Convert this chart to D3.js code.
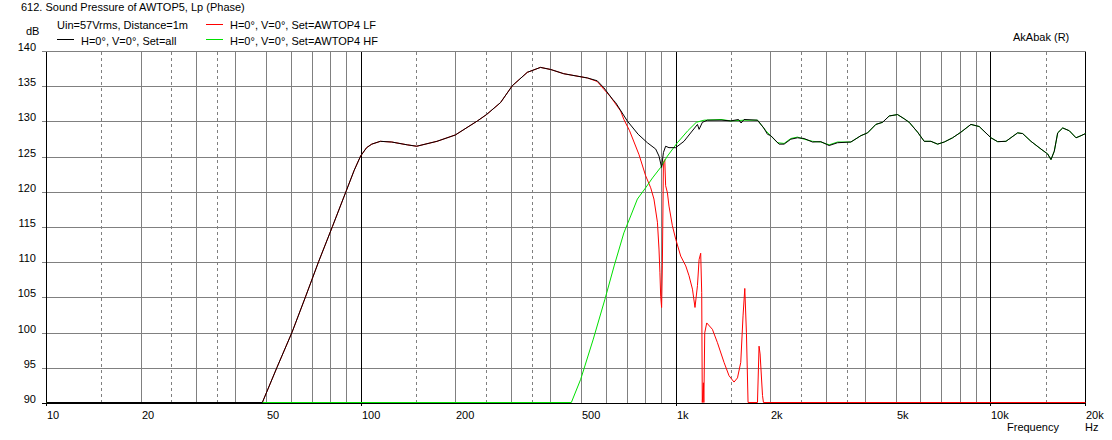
<!DOCTYPE html>
<html><head><meta charset="utf-8">
<script src="https://cdn.jsdelivr.net/npm/d3@7/dist/d3.min.js"></script>
<style>
body{margin:0;background:#fff;}
svg{display:block;}
text{font-family:"Liberation Sans",Arial,sans-serif;font-size:11px;fill:#000;}
</style>
</head><body>
<svg id="c" width="1112" height="440"></svg>
<script>
// ---- data (frequency Hz, level dB) ----
const seriesAll = [[10,90],[48.5,90],[54,95],[60.3,100],[66.5,105],[73.2,110],[81,115],[89.5,120],[95,123],[99.5,125],[104,126.2],[108,126.7],[115,127.1],[125,127.0],[140,126.6],[150,126.4],[174,127.1],[199,128.0],[234,130.0],[250,130.9],[277,132.6],[302,135.0],[337,136.9],[371,137.6],[400,137.3],[440,136.7],[523,136.1],[562,135.7],[590,134.7],[628,133.1],[643,132.6],[700,130.0],[758,128.1],[811,126.9],[862,126.0],[883,125.0],[900,123.4],[912,125.5],[927,126.4],[950,126.2],[998,126.2],[1060,127.1],[1170,129.5],[1184,128.8],[1213,129.8],[1258,130.1],[1400,130.1],[1493,130.0],[1580,130.2],[1610,129.7],[1645,130.2],[1815,130.1],[1900,129.0],[1953,128.1],[2001,127.9],[2126,126.7],[2205,126.7],[2316,127.4],[2432,127.6],[2553,127.5],[2715,127.0],[2885,127.05],[3066,126.5],[3260,126.9],[3594,127.0],[3867,127.9],[4061,128.3],[4315,129.5],[4533,129.8],[4757,130.7],[5058,130.9],[5309,130.3],[5507,129.8],[5856,128.4],[6146,127.1],[6455,127.1],[6779,126.7],[7115,127.0],[7565,127.6],[8040,128.4],[8650,129.5],[9192,129.2],[10014,127.6],[10517,127.05],[11177,127.1],[12172,128.3],[12630,128.2],[13420,127.1],[14440,126.0],[15166,125.3],[15537,124.5],[15918,125.7],[16318,128.3],[16929,129.0],[17767,128.6],[18660,127.6],[19355,127.9],[20000,128.2]];

const seriesLF = [[10,90],[48.5,90],[54,95],[60.3,100],[66.5,105],[73.2,110],[81,115],[89.5,120],[95,123],[99.5,125],[104,126.2],[108,126.7],[115,127.1],[125,127.0],[140,126.6],[150,126.4],[174,127.1],[199,128.0],[234,130.0],[250,130.9],[277,132.6],[302,135.0],[337,136.9],[371,137.6],[400,137.3],[440,136.7],[523,136.1],[562,135.6],[590,134.5],[620,133.4],[667,131.4],[683,130.2],[712,128.6],[763,125.2],[801,122.2],[831,120.5],[851,118.9],[873,115.6],[883,111.8],[889,108.5],[894,105.1],[900,103.5],[905,109.4],[912,124.1],[921,124.5],[927,120.8],[939,119.8],[950,117.9],[974,115.1],[998,113.2],[1035,110.8],[1074,109.4],[1100,108.0],[1128,106.1],[1149,103.5],[1170,106.6],[1184,110.3],[1198,111.2],[1207,105.6],[1212,90],[1222,92.8],[1226,90],[1234,99.9],[1252,101.3],[1305,100.4],[1354,98.5],[1421,95.7],[1474,93.8],[1529,92.9],[1568,93.5],[1606,95.7],[1633,102.3],[1654,106.2],[1674,99.9],[1694,90],[1815,90],[1836,98.0],[1850,96.9],[1883,91],[1896,90],[20000,90]];

const seriesHF = [[10,90],[465,90],[498,93.3],[546,99.0],[594,104.6],[636,109.4],[683,114.1],[718,116.5],[754,118.9],[801,120.5],[842,121.9],[894,123.4],[939,125.0],[1010,126.9],[1090,128.6],[1160,129.8],[1228,130.1],[1390,130.2],[1493,130.0],[1645,130.1],[1815,130.1],[1930,128.6],[2101,126.9],[2205,126.8],[2316,127.5],[2432,127.7],[2553,127.4],[2715,127.1],[2885,127.0],[3066,126.6],[3260,127.0],[3594,127.0],[3867,127.9],[4061,128.3],[4315,129.5],[4533,129.8],[4757,130.7],[5058,130.9],[5309,130.3],[5507,129.8],[5856,128.4],[6146,127.1],[6455,127.1],[6779,126.7],[7115,127.0],[7565,127.6],[8040,128.4],[8650,129.5],[9192,129.2],[10014,127.6],[10517,127.05],[11177,127.1],[12172,128.3],[12630,128.2],[13420,127.1],[14440,126.0],[15166,125.3],[15537,124.5],[15918,125.7],[16318,128.3],[16929,129.0],[17767,128.6],[18660,127.6],[19355,127.9],[20000,128.2]];

const xTickValues = [10,20,50,100,200,500,1000,2000,5000,10000,20000];
const xTickLabels = ["10","20","50","100","200","500","1k","2k","5k","10k","20k"];
const yTickValues = [90,95,100,105,110,115,120,125,130,135,140];
const gridSolidF = [20,30,40,50,60,70,80,90,200,300,400,500,600,700,800,900,2000,3000,4000,5000,6000,7000,8000,9000];
const gridDashedF = [15,25,35,150,250,350,1500,2500,3500,15000];
const gridMajorF = [100,1000,10000];
const legendItems = [
  {label:"H=0°, V=0°, Set=all", color:"#000000"},
  {label:"H=0°, V=0°, Set=AWTOP4 LF", color:"#ff0000"},
  {label:"H=0°, V=0°, Set=AWTOP4 HF", color:"#00e000"}
];

// ---- layout ----
const svg = d3.select("#c");
const x = d3.scaleLog().domain([10,20000]).range([46,1085]);
const y = d3.scaleLinear().domain([90,140]).range([403,51]).clamp(true);
const px = v => Math.round(x(v)) + 0.5;
const py = v => Math.round(y(v)) + 0.5;
const plotTop = py(140), plotBot = py(90), plotLeft = px(10), plotRight = px(20000);

const g = svg.append("g").attr("shape-rendering","crispEdges");
// horizontal grid
g.selectAll(".hg").data(yTickValues.filter(v=>v>90)).enter().append("line")
  .attr("x1",42).attr("x2",plotRight).attr("y1",d=>py(d)).attr("y2",d=>py(d))
  .attr("stroke","#808080");
// vertical grid
g.selectAll(".vs").data(gridSolidF).enter().append("line")
  .attr("x1",d=>px(d)).attr("x2",d=>px(d)).attr("y1",plotTop).attr("y2",plotBot)
  .attr("stroke","#808080");
g.selectAll(".vd").data(gridDashedF).enter().append("line")
  .attr("x1",d=>px(d)).attr("x2",d=>px(d)).attr("y1",plotTop).attr("y2",plotBot)
  .attr("stroke","#808080").attr("stroke-dasharray","3,3");
g.selectAll(".vm").data(gridMajorF).enter().append("line")
  .attr("x1",d=>px(d)).attr("x2",d=>px(d)).attr("y1",plotTop).attr("y2",plotBot+2)
  .attr("stroke","#000");
// borders
g.append("line").attr("x1",plotLeft).attr("x2",plotLeft).attr("y1",plotTop).attr("y2",plotBot+2).attr("stroke","#000");
g.append("line").attr("x1",plotRight).attr("x2",plotRight).attr("y1",plotTop).attr("y2",plotBot+2).attr("stroke","#000");
g.append("line").attr("x1",42).attr("x2",plotRight).attr("y1",plotBot).attr("y2",plotBot).attr("stroke","#000");

// y labels
svg.selectAll(".yl").data(yTickValues).enter().append("text")
  .attr("x",36).attr("y",d=>Math.round(y(d))).attr("text-anchor","end").text(d=>d);
// x labels
svg.selectAll(".xl").data(xTickValues).enter().append("text")
  .attr("x",d=>Math.round(x(d))+1).attr("y",418.5).text((d,i)=>xTickLabels[i]);

svg.append("text").attr("x",1007).attr("y",431).text("Frequency");
svg.append("text").attr("x",1085).attr("y",431).text("Hz");
svg.append("text").attr("x",26).attr("y",34.5).text("dB");
svg.append("text").attr("x",21).attr("y",10.5).text("612. Sound Pressure of AWTOP5, Lp (Phase)");
svg.append("text").attr("x",57).attr("y",28.5).text("Uin=57Vrms, Distance=1m");
svg.append("text").attr("x",1013).attr("y",40.5).text("AkAbak (R)");

// legend
const legPos = [{lx:57,ly:39.5,tx:81,ty:44.5},{lx:206,ly:24.5,tx:230,ty:28.5},{lx:206,ly:39.5,tx:230,ty:44.5}];
legendItems.forEach((d,i)=>{
  const p = legPos[i];
  svg.append("line").attr("x1",p.lx).attr("x2",p.lx+17).attr("y1",p.ly).attr("y2",p.ly)
    .attr("stroke",d.color).attr("shape-rendering","crispEdges");
  svg.append("text").attr("x",p.tx).attr("y",p.ty).text(d.label);
});

// curves: 1px lines; clipped segments run just on top of the bottom axis
const line = d3.line().x(d=>x(d[0])+0.5).y(d=>y(d[1])-0.5);
const curves = svg.append("g");
[[seriesLF,"#ff0000"],[seriesHF,"#00e000"],[seriesAll,"#000000"]].forEach(([s,c])=>{
  curves.append("path").datum(s).attr("d",line).attr("fill","none")
    .attr("stroke",c).attr("stroke-width",1).attr("stroke-linejoin","round");
});
</script>
</body></html>
